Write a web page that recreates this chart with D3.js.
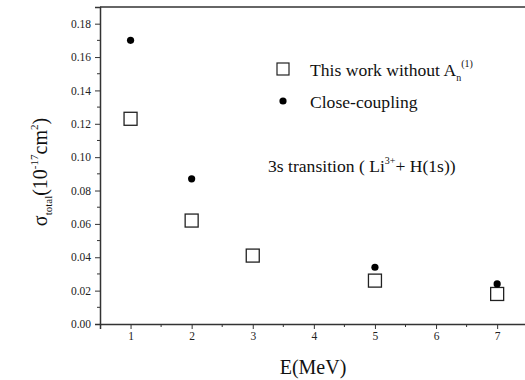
<!DOCTYPE html>
<html>
<head>
<meta charset="utf-8">
<script src="https://cdn.jsdelivr.net/npm/d3@7"></script>
</head>
<body style="margin:0;background:#fff">
<svg id="chart" width="525" height="380"></svg>
<script>
// data
const energies = [1, 2, 3, 5, 7];
const thisWork = [0.123, 0.062, 0.041, 0.026, 0.018];
const ccEnergies = [1, 2, 5, 7];
const closeCoupling = [0.170, 0.087, 0.034, 0.024];
const xTicks = [1, 2, 3, 4, 5, 6, 7];
const yTicks = [0, 0.02, 0.04, 0.06, 0.08, 0.10, 0.12, 0.14, 0.16, 0.18];

const FONT = "'Liberation Serif'";
const svg = d3.select('#chart');
const plotLeft = 100, plotTop = 7, plotBottom = 324;

const x = d3.scaleLinear().domain([0.5, 7.5]).range([plotLeft, plotLeft + 7 * 61.1]);
const y = d3.scaleLinear().domain([0, 0.19]).range([plotBottom, plotTop]);

// frame line on top (runs past the window like the original)
svg.append('line').attr('x1', plotLeft).attr('x2', x(7.5)).attr('y1', plotTop).attr('y2', plotTop)
    .attr('stroke', '#333').attr('stroke-width', 1.5);

const xAxis = svg.append('g').attr('transform', `translate(0,${plotBottom})`)
    .call(d3.axisBottom(x).tickValues(xTicks).tickFormat(d3.format('d')).tickSize(5).tickPadding(3));
const yAxis = svg.append('g').attr('transform', `translate(${plotLeft},0)`)
    .call(d3.axisLeft(y).tickValues(yTicks).tickFormat(d3.format('.2f')).tickSize(5).tickPadding(4));

// minor ticks
svg.append('g').selectAll('line').data(d3.range(1.5, 7.5, 1)).join('line')
    .attr('x1', d => x(d)).attr('x2', d => x(d)).attr('y1', plotBottom).attr('y2', plotBottom + 3)
    .attr('stroke', '#333');
svg.append('g').selectAll('line').data(d3.range(0.01, 0.19, 0.02)).join('line')
    .attr('x1', plotLeft - 3).attr('x2', plotLeft).attr('y1', d => y(d)).attr('y2', d => y(d))
    .attr('stroke', '#333');

[xAxis, yAxis].forEach(a => {
    a.attr('font-family', null);
    a.select('.domain').attr('stroke', '#333').attr('stroke-width', 1.5);
    a.selectAll('.tick line').attr('stroke', '#333');
    a.selectAll('text').style('font-family', FONT).style('font-size', '11.5px').attr('fill', '#222');
});

// squares
const sq = 13;
svg.append('g').selectAll('rect').data(energies).join('rect')
    .attr('x', d => x(d) - sq / 2)
    .attr('y', (d, i) => y(thisWork[i]) - sq / 2)
    .attr('width', sq).attr('height', sq)
    .attr('fill', 'none').attr('stroke', '#222').attr('stroke-width', 1.3);

// dots
svg.append('g').selectAll('circle').data(ccEnergies).join('circle')
    .attr('cx', d => x(d)).attr('cy', (d, i) => y(closeCoupling[i])).attr('r', 3.6)
    .attr('fill', '#000');

function label(parent, px, py, size) {
    return parent.append('text').attr('x', px).attr('y', py)
        .style('font-family', FONT).style('font-size', size + 'px').attr('fill', '#111');
}

// legend
const leg = svg.append('g');
leg.append('rect').attr('x', 277).attr('y', 63).attr('width', 12).attr('height', 12)
    .attr('fill', 'none').attr('stroke', '#222').attr('stroke-width', 1.2);
leg.append('circle').attr('cx', 283).attr('cy', 101).attr('r', 3.6).attr('fill', '#000');

const t1 = label(leg, 310, 76, 17.6);
t1.append('tspan').text('This work without A');
t1.append('tspan').style('font-size', '10px').attr('dy', 5).text('n');
t1.append('tspan').style('font-size', '10px').attr('dy', -14).text('(1)');

label(leg, 310, 108, 17.6).text('Close-coupling');

const t2 = label(svg, 268, 172, 17.6);
t2.append('tspan').text('3s transition ( Li');
t2.append('tspan').style('font-size', '10px').attr('dy', -8).text('3+');
t2.append('tspan').attr('dy', 8).text('+ H(1s))');

// axis titles
label(svg, 313, 374, 20).attr('text-anchor', 'middle').text('E(MeV)');

const yt = label(svg, 0, 0, 20).attr('transform', 'translate(47,172) rotate(-90)')
    .attr('text-anchor', 'middle');
yt.append('tspan').text('σ');
yt.append('tspan').style('font-size', '11px').attr('dy', 5).text('total');
yt.append('tspan').attr('dy', -5).text('(10');
yt.append('tspan').style('font-size', '11px').attr('dy', -9).text('-17');
yt.append('tspan').attr('dy', 9).text('cm');
yt.append('tspan').style('font-size', '11px').attr('dy', -9).text('2');
yt.append('tspan').attr('dy', 9).text(')');
</script>
</body>
</html>
